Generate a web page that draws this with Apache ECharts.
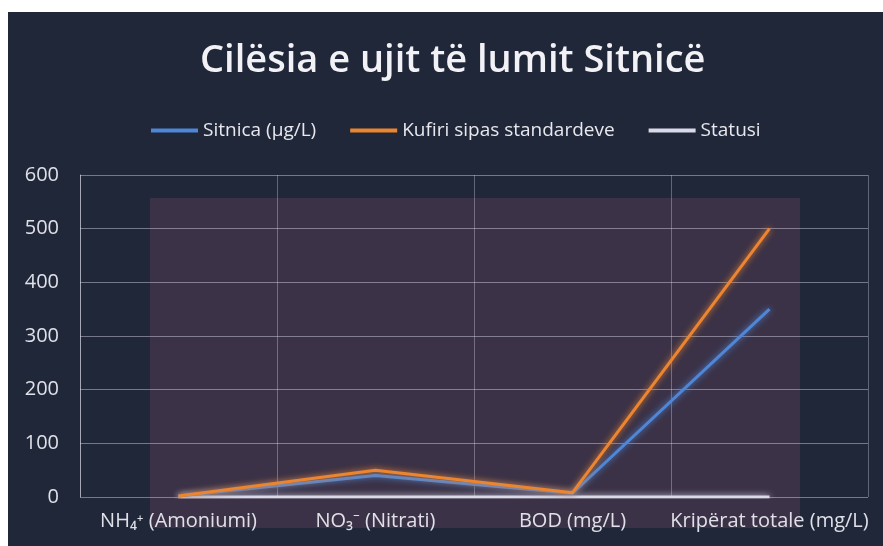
<!DOCTYPE html>
<html>
<head>
<meta charset="utf-8">
<script src="https://cdn.jsdelivr.net/npm/echarts@6/dist/echarts.min.js"></script>
<style>
  html, body { margin: 0; padding: 0; background: #ffffff; }
  #chart { width: 883px; height: 546px; }
</style>
</head>
<body>
<div id="chart"></div>
<script>
// categories and values
const categories = ['NH\u2084\u207A (Amoniumi)', 'NO\u2083\u207B (Nitrati)', 'BOD (mg/L)', 'Krip\u00EBrat totale (mg/L)']
const sitnica = [2, 40, 7, 350]
const kufiri = [2, 50, 8, 500]
const statusi = [0, 0, 0, 0]
const yTicks = [0, 100, 200, 300, 400, 500, 600]

const chart = echarts.init(document.getElementById('chart'))

const font = "'Open Sans', 'Noto Sans', sans-serif"

function lineSeries(name, data, color, width) {
  return {
    name: name,
    type: 'line',
    data: data,
    symbol: 'none',
    lineStyle: {
      color: color,
      width: width,
      shadowColor: color,
      shadowBlur: 6
    },
    itemStyle: { color: color }
  }
}

const option = {
  backgroundColor: '#ffffff',
  graphic: [
    // dark photo background of the slide
    { type: 'rect', z: -10, shape: { x: 8, y: 12, width: 875, height: 534 }, style: { fill: '#1f2739' } },
    // purple inner panel
    { type: 'rect', z: -9, shape: { x: 150, y: 198, width: 650, height: 330 }, style: { fill: '#3b3247' } }
  ],
  title: {
    text: 'Cil\u00EBsia e ujit t\u00EB lumit Sitnic\u00EB',
    left: 195,
    top: 37,
    textStyle: { color: '#f2f2f6', fontSize: 38, fontWeight: 600, fontFamily: font }
  },
  legend: {
    top: 116,
    left: 146,
    itemWidth: 47,
    itemHeight: 4,
    itemGap: 34,
    icon: 'rect',
    textStyle: { color: '#e8e8ee', fontSize: 19, fontFamily: font },
    data: ['Sitnica (\u00B5g/L)', 'Kufiri sipas standardeve', 'Statusi']
  },
  grid: { left: 80, right: 15, top: 175, bottom: 49 },
  xAxis: {
    type: 'category',
    data: categories,
    boundaryGap: true,
    axisLine: { show: false },
    axisTick: { show: false },
    axisLabel: { color: '#e0e0e8', fontSize: 20, fontFamily: font, margin: 14, interval: 0 },
    splitLine: { show: true, lineStyle: { color: 'rgba(220,220,235,0.35)', width: 1 } }
  },
  yAxis: {
    type: 'value',
    min: 0,
    max: 600,
    interval: 100,
    axisLine: { show: true, lineStyle: { color: 'rgba(220,220,235,0.55)' } },
    axisTick: { show: false },
    axisLabel: {
      color: '#e0e0e8', fontSize: 20, fontFamily: font, margin: 21,
      formatter: v => yTicks.includes(v) ? String(v) : ''
    },
    splitLine: { lineStyle: { color: 'rgba(220,220,235,0.45)', width: 1 } }
  },
  series: [
    lineSeries('Statusi', statusi, '#d9d9e8', 3),
    lineSeries('Sitnica (\u00B5g/L)', sitnica, '#4f86d6', 3),
    lineSeries('Kufiri sipas standardeve', kufiri, '#ec8530', 3)
  ]
}

chart.setOption(option)
</script>
</body>
</html>
